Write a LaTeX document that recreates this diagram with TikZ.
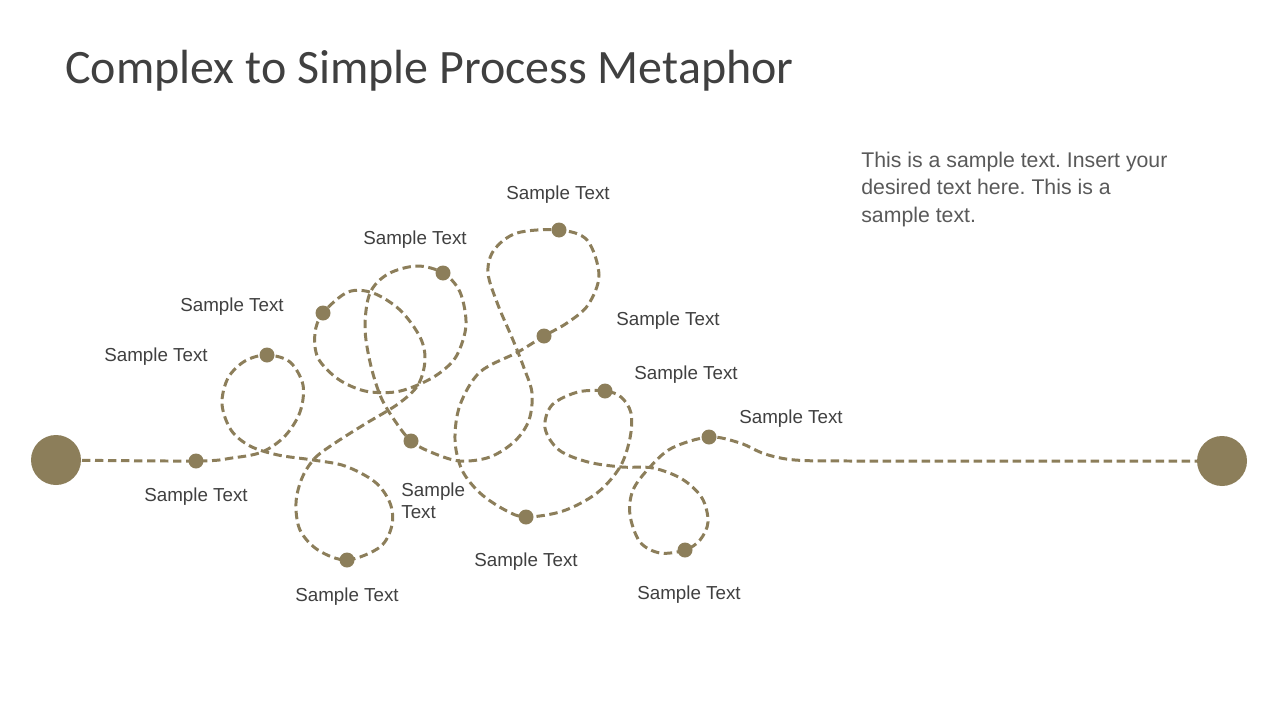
\documentclass[tikz,border=0pt]{standalone}
\usepackage{fontspec}
\setmainfont{Liberation Sans}
\newfontfamily\titlefont{Carlito}
\frenchspacing
\definecolor{olive}{RGB}{140,126,90}
\definecolor{darktext}{RGB}{64,64,64}
\definecolor{paratext}{RGB}{89,89,89}
\begin{document}
\begin{tikzpicture}[x=0.02cm,y=-0.02cm,
  pathline/.style={draw=olive,line width=1.7pt,dash pattern=on 4.8pt off 2.6pt},
  dotnode/.style={circle,fill=olive,inner sep=0pt,minimum size=0.3cm},
  endnode/.style={circle,fill=olive,inner sep=0pt,minimum size=1cm},
  lbl/.style={font=\fontsize{10.7}{12.8}\selectfont,text=darktext,inner sep=0pt,align=left}]
\useasboundingbox[fill=white] (0,0) rectangle (1280,720);
% title
\node[anchor=base west,inner sep=0pt,text=darktext,font=\titlefont\fontsize{27.3}{32}\selectfont] (title) at (65,83) {Complex to Simple Process Metaphor};
% paragraph
\node[anchor=base west,inner sep=0pt,text=paratext,align=left,font=\fontsize{12.1}{15.6}\selectfont] (para) at (861,222) {This is a sample text. Insert your\\desired text here. This is a\\sample text.};
% the winding path
\draw[pathline] plot[smooth,tension=0.55] coordinates {
(56,460) (196,461) (232,458) (262,452) (285,436) (300,412) (303,385) (290,362) (267,355) (245,361) (228,378) (222,404) (231,430) (250,446) (278,455) (313,460) (345,466) (375,482) (390,503) (392,525) (380,547) (347,560) (318,550) (300,530) (296,503) (302,478) (315,458) (335,443) (365,424) (398,404) (418,385) (425,360) (420,337) (400,310) (373,293) (348,292) (323,313) (315,333) (318,358) (338,379) (365,391) (395,392) (420,384) (441,372) (457,355) (466,325) (460,292) (443,273) (417,266) (388,274) (370,293) (365,327) (370,362) (380,395) (393,418) (411,441) (433,453) (460,461) (490,457) (515,441) (529,420) (532,393) (524,368) (513,340) (498,305) (488,273) (494,250) (517,233) (559,230) (587,240) (599,275) (588,305) (567,323) (544,336) (518,352) (480,372) (460,405) (455,440) (462,470) (480,493) (505,510) (526,517) (563,511) (597,493) (620,467) (630,438) (631,413) (621,397) (605,391) (578,392) (552,405) (545,428) (559,450) (588,462) (622,467) (653,468) (682,479) (702,498) (708,522) (700,540) (685,550) (660,553) (640,542) (630,515) (633,490) (650,467) (672,448) (709,437) (740,443) (765,454) (795,460) (850,461) (1000,461) (1222,461)};
% end circles
\node[endnode] (start) at (56,460) {};
\node[endnode] (finish) at (1222,461) {};
% dots
\node[dotnode] (d1) at (196,461) {};
\node[dotnode] (d2) at (267,355) {};
\node[dotnode] (d3) at (347,560) {};
\node[dotnode] (d4) at (323,313) {};
\node[dotnode] (d5) at (443,273) {};
\node[dotnode] (d6) at (411,441) {};
\node[dotnode] (d7) at (559,230) {};
\node[dotnode] (d8) at (544,336) {};
\node[dotnode] (d9) at (526,517) {};
\node[dotnode] (d10) at (605,391) {};
\node[dotnode] (d11) at (685,550) {};
\node[dotnode] (d12) at (709,437) {};
% labels
\node[lbl] (l1) at (196,497) {Sample Text};
\node[lbl] (l2) at (156,357) {Sample Text};
\node[lbl] (l3) at (347,597) {Sample Text};
\node[lbl] (l4) at (232,307) {Sample Text};
\node[lbl] (l5) at (415,240) {Sample Text};
\node[lbl,anchor=west] (l6) at (401,501) {Sample\\Text};
\node[lbl] (l7) at (558,195) {Sample Text};
\node[lbl] (l8) at (668,321) {Sample Text};
\node[lbl] (l9) at (526,562) {Sample Text};
\node[lbl] (l10) at (686,375) {Sample Text};
\node[lbl] (l11) at (689,595) {Sample Text};
\node[lbl] (l12) at (791,419) {Sample Text};
\end{tikzpicture}
\end{document}
